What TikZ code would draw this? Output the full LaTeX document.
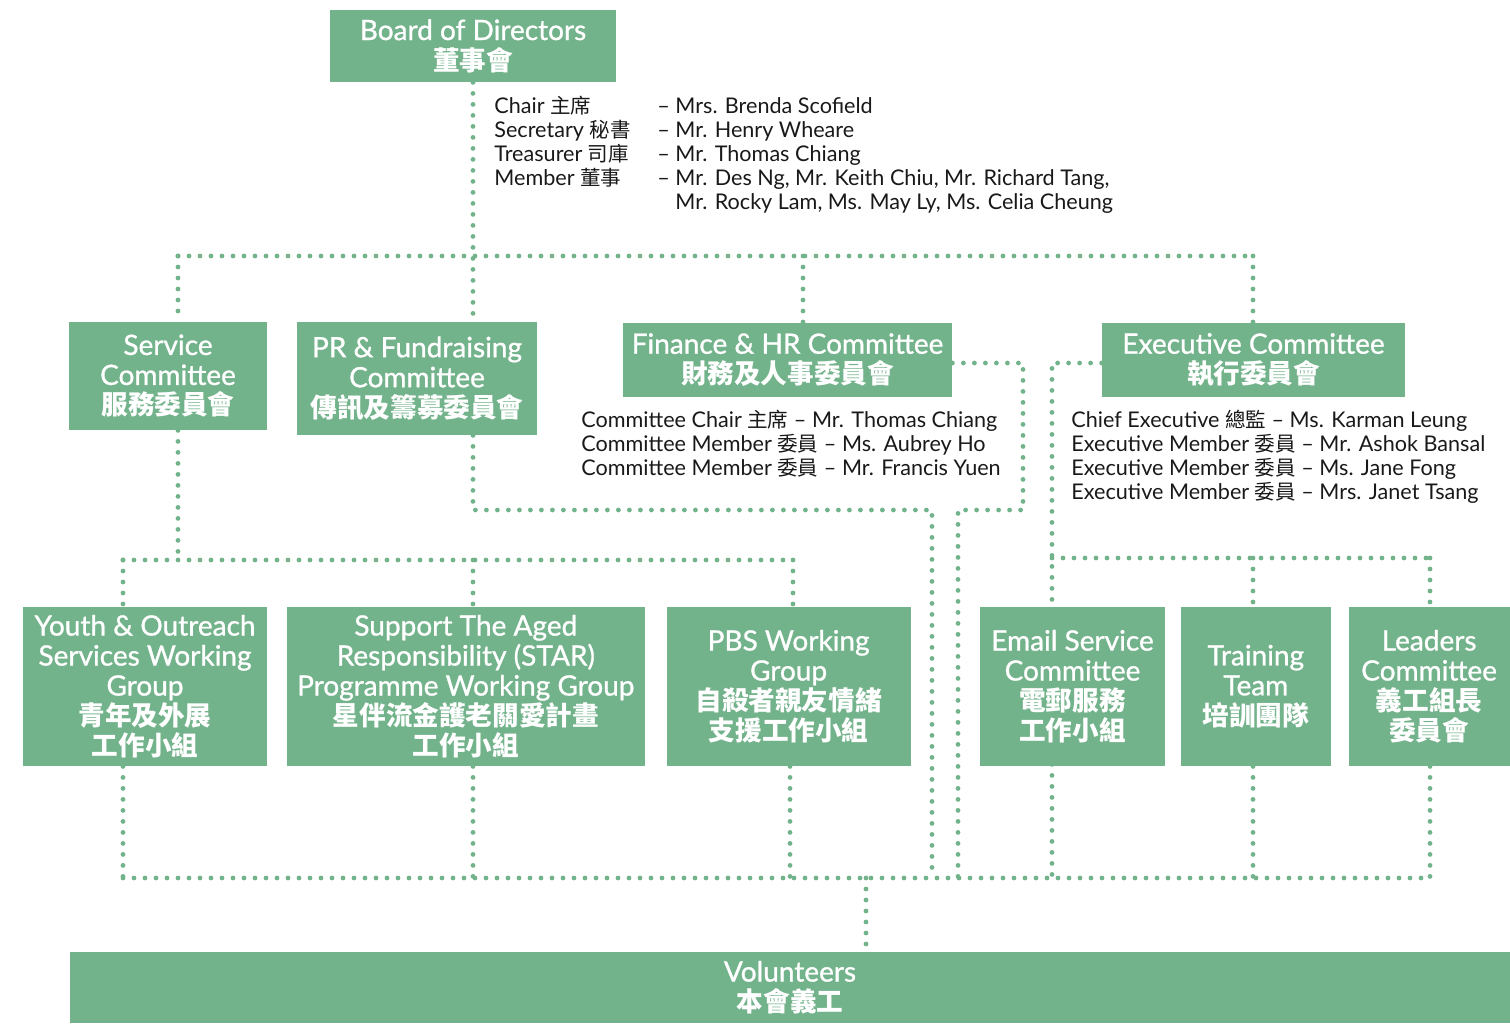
\documentclass[tikz,border=0pt]{standalone}
\usepackage{fontspec}
\setmainfont{Lato}
\newfontfamily\boxfont[FakeBold=1]{Lato}
\newfontfamily\cjkfont[Scale=0.95]{Noto Sans CJK TC}
\usetikzlibrary{positioning, backgrounds, calc}
\definecolor{orggreen}{RGB}{115,179,139}
\newcommand{\zh}[1]{{\cjkfont #1}}
\newcommand{\zhb}[1]{{\cjkfont\bfseries #1}}
\newcommand{\role}[1]{\makebox[81.5pt][l]{#1}}

\begin{document}
\begin{tikzpicture}[x=0.5pt, y=-0.5pt,
    % Define styles for the nodes
    org_box/.style={rectangle, fill=orggreen, text=white, align=center, inner sep=0pt, font=\boxfont\fontsize{14}{15}\selectfont},
    committee_box/.style={org_box, minimum height=37pt},
    group_box/.style={org_box, minimum height=79.5pt},
    list_text/.style={align=left, inner sep=0pt, font=\fontsize{10.8}{12}\selectfont, text=black!90},
    % Styles for the connectors
    dotline/.style={draw=orggreen, line width=2.4pt, line cap=round, dash pattern=on 0pt off 5.5pt}
]
    \useasboundingbox (0,0) rectangle (1510,1023);

    % =========================================================================
    % BOARD
    % =========================================================================
    \node (board) [org_box, minimum width=143pt, minimum height=36pt] at (473,46) {Board of Directors\\\zhb{董事會}};

    \node (board_list) [list_text, anchor=north west] at (494,96) {%
        \role{Chair \zh{主席}}– Mrs. Brenda Scofield\\
        \role{Secretary \zh{秘書}}– Mr. Henry Wheare\\
        \role{Treasurer \zh{司庫}}– Mr. Thomas Chiang\\
        \role{Member \zh{董事}}– Mr. Des Ng, Mr. Keith Chiu, Mr. Richard Tang,\\
        \role{}\phantom{– }Mr. Rocky Lam, Ms. May Ly, Ms. Celia Cheung};

    % =========================================================================
    % COMMITTEES
    % =========================================================================
    \node (service) [org_box, minimum width=99pt, minimum height=54pt] at (168,376) {Service\\Committee\\\zhb{服務委員會}};
    \node (pr) [org_box, minimum width=120pt, minimum height=56.5pt] at (417,378.5) {PR \& Fundraising\\Committee\\\zhb{傳訊及籌募委員會}};
    \node (fin) [committee_box, minimum width=164.5pt] at (787.5,360) {Finance \& HR Committee\\\zhb{財務及人事委員會}};
    \node (exec) [committee_box, minimum width=151.5pt] at (1253.5,360) {Executive Committee\\\zhb{執行委員會}};

    \node (fin_list) [list_text, anchor=north west] at (581,410) {%
        Committee Chair \zh{主席} – Mr. Thomas Chiang\\
        Committee Member \zh{委員} – Ms. Aubrey Ho\\
        Committee Member \zh{委員} – Mr. Francis Yuen};

    \node (exec_list) [list_text, anchor=north west] at (1071,410) {%
        Chief Executive \zh{總監} – Ms. Karman Leung\\
        Executive Member \zh{委員} – Mr. Ashok Bansal\\
        Executive Member \zh{委員} – Ms. Jane Fong\\
        Executive Member \zh{委員} – Mrs. Janet Tsang};

    % =========================================================================
    % WORKING GROUPS
    % =========================================================================
    \node (youth) [group_box, minimum width=122pt] at (145,686.5) {Youth \& Outreach\\Services Working\\Group\\\zhb{青年及外展}\\\zhb{工作小組}};
    \node (star) [group_box, minimum width=179pt, right=9.5pt of youth] {Support The Aged\\Responsibility (STAR)\\Programme Working Group\\\zhb{星伴流金護老關愛計畫}\\\zhb{工作小組}};
    \node (pbs) [group_box, minimum width=122pt, right=10.5pt of star] {PBS Working\\Group\\\zhb{自殺者親友情緒}\\\zhb{支援工作小組}};

    \node (email) [group_box, minimum width=92.5pt] at (1072.5,686.5) {Email Service\\Committee\\\zhb{電郵服務}\\\zhb{工作小組}};
    \node (training) [group_box, minimum width=75pt, right=7.5pt of email] {Training\\Team\\\zhb{培訓團隊}};
    \node (leaders) [group_box, minimum width=80.5pt, right=8.5pt of training] {Leaders\\Committee\\\zhb{義工組長}\\\zhb{委員會}};

    % =========================================================================
    % VOLUNTEERS
    % =========================================================================
    \node (vol) [org_box, minimum width=720pt, minimum height=35.5pt] at (790,987.5) {Volunteers\\\zhb{本會義工}};

    % =========================================================================
    % DOTTED CONNECTORS (behind the boxes)
    % =========================================================================
    \coordinate (top_l) at (178,256);
    \coordinate (top_r) at (1253,256);
    \coordinate (svc_l) at (123,560);
    \coordinate (svc_r) at (793,560);
    \coordinate (pr_turn) at (932,510);
    \coordinate (fin_turn) at (1023,510);
    \coordinate (fin_down) at (958,510);
    \coordinate (exe_l) at (1052,558);
    \coordinate (exe_r) at (1430,558);
    \coordinate (bot_l) at (123,878);
    \coordinate (bot_r) at (1430,878);
    \coordinate (vol_in) at (866,878);

    \begin{scope}[on background layer]
        % board to committees
        \draw [dotline] (board.south) -- (board.south |- pr.north);
        \draw [dotline] (top_l) -- (top_r);
        \draw [dotline] (top_l) -- (top_l |- service.north);
        \draw [dotline] ([xshift=7.75pt]fin.north |- top_l) -- ([xshift=7.75pt]fin.north);
        \draw [dotline] (top_r) -- (top_r |- exec.north);

        % service committee to its groups
        \draw [dotline] (top_l |- service.south) -- (top_l |- svc_l);
        \draw [dotline] (svc_l) -- (svc_r);
        \draw [dotline] (svc_l) -- (svc_l |- youth.north);
        \draw [dotline] (board.south |- svc_l) -- (board.south |- star.north);
        \draw [dotline] (svc_r) -- (svc_r |- pbs.north);

        % PR and finance down to the bottom line
        \draw [dotline] (board.south |- pr.south) |- (pr_turn) -- (pr_turn |- bot_l);
        \draw [dotline] ([yshift=-1.5pt]fin.east) -| (fin_turn) -- (fin_down) -- (fin_down |- bot_l);

        % executive committee to its groups
        \draw [dotline] ([yshift=-1.5pt]exec.west) -| (exe_l) -- (exe_l |- bot_l);
        \draw [dotline] (exe_l) -- (exe_r);
        \draw [dotline] (top_r |- exe_l) -- (top_r |- training.north);
        \draw [dotline] (exe_r) -- (exe_r |- leaders.north);

        % groups down to volunteers
        \draw [dotline] (bot_l) -- (bot_r);
        \draw [dotline] (svc_l |- youth.south) -- (bot_l);
        \draw [dotline] (board.south |- star.south) -- (board.south |- bot_l);
        \draw [dotline] ([xshift=-1.5pt]svc_r |- pbs.south) -- ([xshift=-1.5pt]svc_r |- bot_l);
        \draw [dotline] (top_r |- training.south) -- (top_r |- bot_l);
        \draw [dotline] (exe_r |- leaders.south) -- (bot_r);
        \draw [dotline] (vol_in) -- (vol_in |- vol.north);
    \end{scope}

\end{tikzpicture}
\end{document}
